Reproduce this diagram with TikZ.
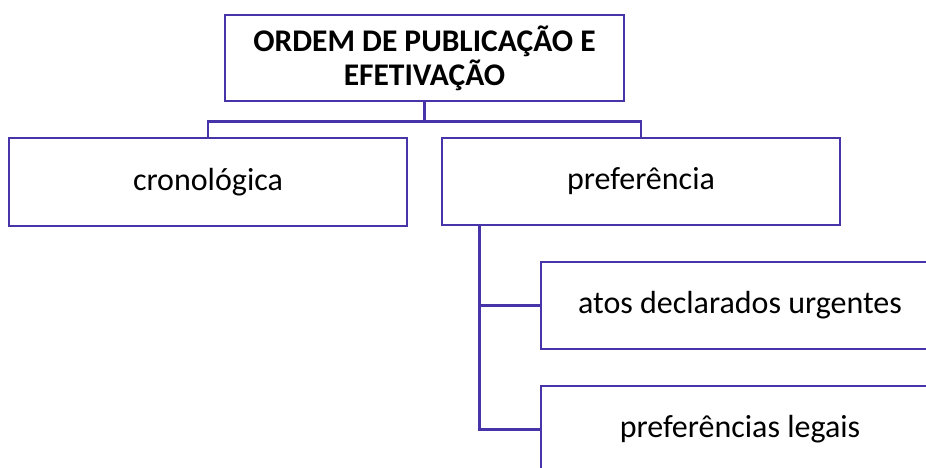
\documentclass[tikz,border=0pt]{standalone}
\usepackage{fontspec}
\setmainfont{Carlito}
\definecolor{lc}{RGB}{70,52,168}
\begin{document}
\begin{tikzpicture}[x=1pt,y=-1pt,
  box/.style={draw=lc,line width=2.6pt,minimum width=398pt,minimum height=87pt,inner sep=0pt,align=center,font=\fontsize{32}{38}\selectfont},
  link/.style={draw=lc,line width=2.6pt}]
\useasboundingbox (0,0) rectangle (926,468);
\clip (0,0) rectangle (926,468);
\node[box,minimum width=399pt,minimum height=86pt,font=\bfseries\fontsize{31.5}{34}\selectfont] (top) at (424.5,58) {ORDEM DE PUBLICAÇÃO E\\EFETIVAÇÃO};
\node[box,minimum height=88pt] (cron) at (208,182) {cronológica};
\node[box] (pref) at (641,181.5) {preferência};
\node[box] (atos) at (740,305.5) {atos declarados urgentes};
\node[box] (legais) at (740,429.5) {preferências legais};
\draw[link] (top.south) -- ++(0,19) coordinate (hb) -| (cron.north);
\draw[link] (hb) -| (pref.north);
\coordinate (pb) at ([xshift=39pt]pref.south west);
\draw[link] (pb) |- (legais.west);
\draw[link] (pb) |- (atos.west);
\end{tikzpicture}
\end{document}
